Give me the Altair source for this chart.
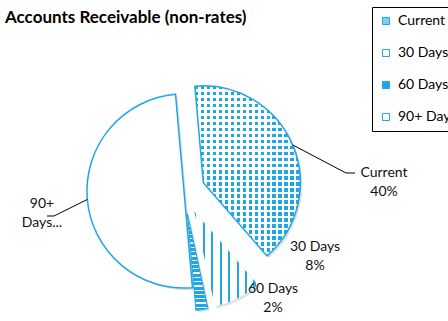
import math
import altair as alt
import pandas as pd

# Receivables by age bucket (% of total)
categories = ["Current", "30 Days", "60 Days", "90+ Days"]
shares = [40, 8, 2, 50]
order = [0, 1, 2, 3]

TITLE = "Accounts Receivable (non-rates)"

BLUE = "#1fa7e4"
FONT = "Lato"
TEXT = "#111111"

# pie geometry (pixels, start angle in radians, clockwise from 12 o'clock)
CX, CY, R = 184, 191, 97
START = math.radians(-5)
EXPLODE = {"Current": 21, "30 Days": 23, "60 Days": 23, "90+ Days": 0}

# data label placement: centre x, first-line baseline y
LABEL_POS = {
    "Current": (384, 177),
    "30 Days": (315, 251),
    "60 Days": (273, 293),
    "90+ Days": (42, 208),
}
LABEL_OVERRIDE = {"90+ Days": "90+\nDays..."}
# leader lines: elbow point and end point next to the label
LEADERS = {
    "Current": ((346, 173), (355, 173)),
    "90+ Days": ((54, 216), (47, 216)),
}

total = sum(shares)
df = pd.DataFrame({"category": categories, "share": shares, "order": order})

labels_df = pd.DataFrame({
    "category": categories,
    "text": [LABEL_OVERRIDE.get(c, f"{c}\n{v}%") for c, v in zip(categories, shares)],
    "lx": [LABEL_POS[c][0] for c in categories],
    "ly": [LABEL_POS[c][1] for c in categories],
})
leader_df = pd.DataFrame({
    "category": list(LEADERS),
    "ex": [LEADERS[c][0][0] for c in LEADERS],
    "ey": [LEADERS[c][0][1] for c in LEADERS],
    "lx": [LEADERS[c][1][0] for c in LEADERS],
    "ly": [LEADERS[c][1][1] for c in LEADERS],
})

explode_expr = "".join(f"datum.category === '{c}' ? {e} : " for c, e in EXPLODE.items()) + "0"


def with_geometry(base):
    return (
        base.transform_window(cum="sum(share)", sort=[alt.SortField("order")], frame=[None, 0])
        .transform_joinaggregate(total="sum(share)")
        .transform_calculate(t0="datum.cum - datum.share")
        .transform_calculate(ang=f"{START} + 2*PI*(datum.cum - datum.share/2)/datum.total")
        .transform_calculate(ex=explode_expr)
        .transform_calculate(cx=f"{CX} + datum.ex*sin(datum.ang)")
        .transform_calculate(cy=f"{CY} - datum.ex*cos(datum.ang)")
        .transform_calculate(px=f"datum.cx + {R}*sin(datum.ang)")
        .transform_calculate(py=f"datum.cy - {R}*cos(datum.ang)")
    )


def stripes(length, period, on, c_on, c_off, vertical):
    stops = []
    pos = 0.0
    while pos < length - 1e-9:
        a = pos / length
        b = min(pos + on, length) / length
        c = min(pos + period, length) / length
        stops += [(a, c_on), (b, c_on), (b, c_off), (c, c_off)]
        pos += period
    return {
        "gradient": "linear",
        "x1": 0, "y1": 0,
        "x2": 0 if vertical else 1,
        "y2": 1 if vertical else 0,
        "stops": [{"offset": round(o, 5), "color": col} for o, col in stops],
    }


arc_enc = dict(
    theta=alt.Theta("t0:Q", scale=alt.Scale(domain=[0, total], range=[START, START + 2 * math.pi]), stack=False),
    theta2=alt.Theta2("cum:Q"),
    x=alt.X("cx:Q", scale=None, axis=None),
    y=alt.Y("cy:Q", scale=None, axis=None),
)

base = with_geometry(alt.Chart(df))


def slice_layer(cat, **mark):
    return base.transform_filter(f"datum.category === '{cat}'").mark_arc(radius=R, **mark).encode(**arc_enc)


shadow = base.mark_arc(radius=R, fill="#9a9a9a", opacity=0.3, xOffset=2, yOffset=2).encode(**arc_enc)

over = slice_layer("90+ Days", fill="white", stroke=BLUE, strokeWidth=1.5)

current_a = slice_layer("Current", fill=stripes(170, 6, 3.6, BLUE, "#ffffff", True))
current_b = slice_layer("Current", fill=stripes(106, 6, 3.6, "rgba(255,255,255,0)", "#ffffff", False))
current_c = slice_layer("Current", fill="rgba(255,255,255,0)", stroke=BLUE, strokeWidth=1.5)

d30 = slice_layer("30 Days", fill=stripes(64, 8.5, 2.2, BLUE, "#ffffff", False))
d60 = slice_layer("60 Days", fill=stripes(97, 4.3, 3, BLUE, "#ffffff", True), stroke=BLUE, strokeWidth=1)

# leader lines from the slice edge to the label
leader_base = with_geometry(alt.Chart(df)).transform_lookup(
    lookup="category",
    from_=alt.LookupData(leader_df, "category", ["ex", "ey", "lx", "ly"]),
).transform_filter("isValid(datum.ex)")

leader1 = leader_base.mark_rule(color="black", strokeWidth=1).encode(
    x=alt.X("px:Q", scale=None, axis=None), y=alt.Y("py:Q", scale=None, axis=None),
    x2="ex:Q", y2="ey:Q",
)
leader2 = leader_base.mark_rule(color="black", strokeWidth=1).encode(
    x=alt.X("ex:Q", scale=None, axis=None), y=alt.Y("ey:Q", scale=None, axis=None),
    x2="lx:Q", y2="ly:Q",
)

labels = alt.Chart(labels_df).mark_text(
    font=FONT, fontSize=14, color=TEXT, align="center", baseline="alphabetic",
    lineBreak="\n", lineHeight=19,
).encode(
    x=alt.X("lx:Q", scale=None, axis=None),
    y=alt.Y("ly:Q", scale=None, axis=None),
    text="text:N",
)

title = alt.Chart(pd.DataFrame({"t": [TITLE]})).mark_text(
    font=FONT, fontSize=17, fontWeight="bold", color="black", align="left", baseline="alphabetic",
).encode(x=alt.value(5), y=alt.value(23), text="t:N")

# invisible layer that carries the legend
legend_layer = base.mark_point(shape="square", filled=True, opacity=0).encode(
    x=alt.X("cx:Q", scale=None, axis=None),
    y=alt.Y("cy:Q", scale=None, axis=None),
    fill=alt.Fill(
        "category:N",
        scale=alt.Scale(domain=categories, range=["#86cdf0", "#ffffff", BLUE, "#ffffff"]),
        legend=alt.Legend(
            title=None, orient="none", legendX=372, legendY=7,
            strokeColor="black", fillColor="white", padding=7, cornerRadius=0,
            rowPadding=18, labelFont=FONT, labelFontSize=14, labelColor="black",
            labelOffset=5, symbolType="square", symbolSize=50, symbolOpacity=1,
            symbolStrokeColor=BLUE, symbolStrokeWidth=1, labelLimit=200,
        ),
    ),
)

chart = (
    alt.layer(
        shadow, over, current_a, current_b, current_c, d30, d60,
        leader1, leader2, labels, title, legend_layer,
    )
    .properties(width=448, height=321, padding=0, autosize="none", background="white")
    .configure_view(strokeWidth=0)
)

chart.save("out.html", embed_options={"renderer": "svg", "actions": False})
